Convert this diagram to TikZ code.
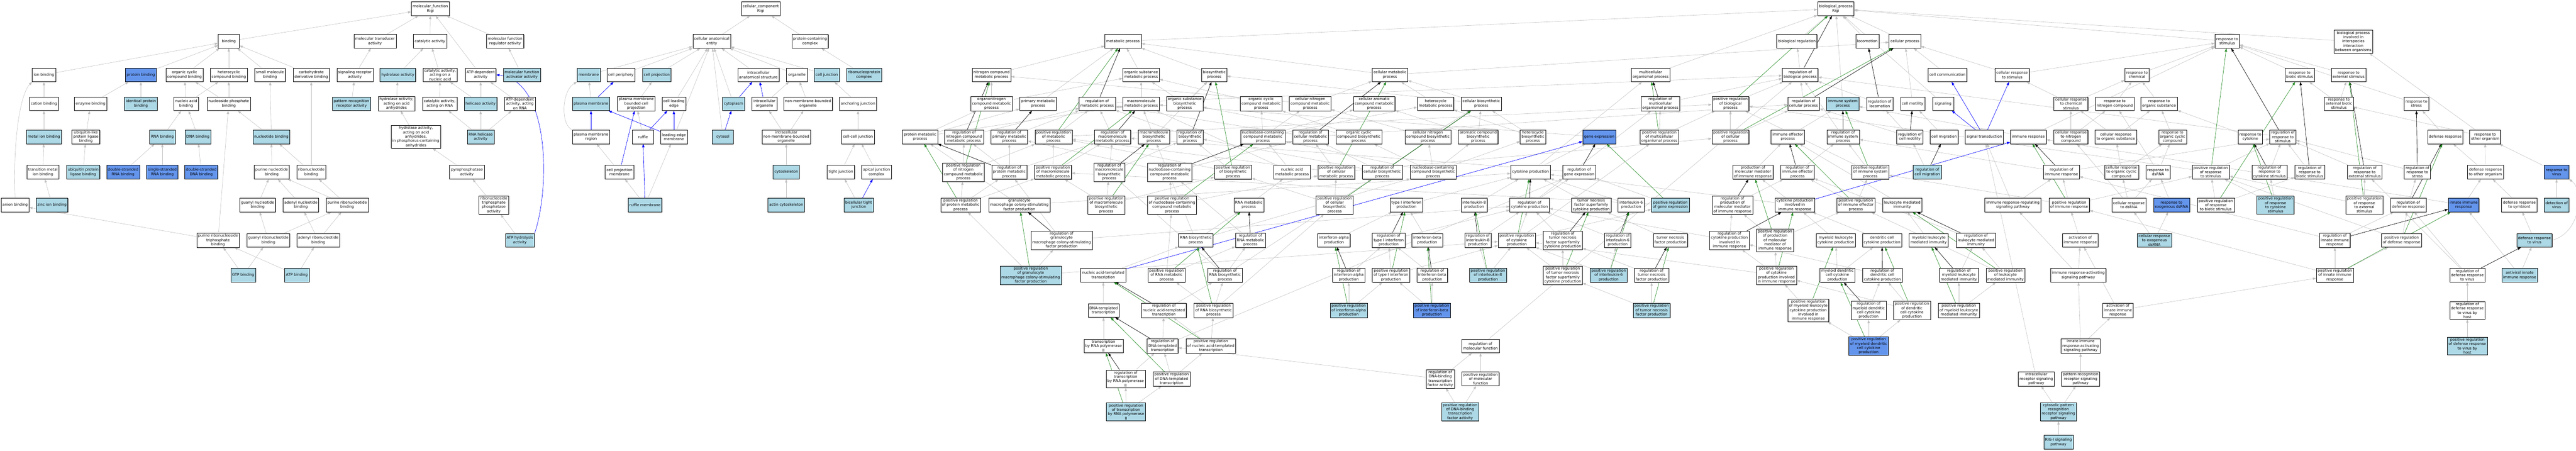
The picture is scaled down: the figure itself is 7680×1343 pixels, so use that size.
\documentclass[tikz,border=0pt]{standalone}
\usepackage{fontspec}
\setmainfont{DejaVu Sans}
\usepackage{tikz}
\usetikzlibrary{arrows.meta,shadows,backgrounds}
\definecolor{golight}{HTML}{ADD8E6}
\definecolor{godark}{HTML}{6495ED}
\definecolor{edgegray}{HTML}{C0C0C0}
\definecolor{forest}{HTML}{228B22}
\newcommand{\gofont}{\fontsize{11}{12.8}\selectfont}

\begin{document}
\begin{tikzpicture}[x=1pt, y=-1pt,
	term/.style={draw=black, line width=0.8pt, rectangle, fill=white, font=\gofont, align=center, inner xsep=4pt, inner ysep=3pt, minimum width=63pt, minimum height=41pt, general shadow={fill=black!45, shadow xshift=1.4pt, shadow yshift=-1.4pt}},
	hit/.style={term, fill=golight},
	hitdark/.style={term, fill=godark},
	isa/.style={draw=edgegray, line width=0.9pt, -{Triangle[length=10pt,width=7pt]}},
	partof/.style={draw=blue, line width=1pt, -{Triangle[length=10pt,width=7pt]}},
	regul/.style={draw=black, line width=1pt, -{Triangle[length=10pt,width=7pt]}},
	posregul/.style={draw=forest, line width=1pt, -{Triangle[length=10pt,width=7pt]}}]
			\useasboundingbox (0,0) rectangle (7680,1343);

			% molecular function
			\node[term] (mf) at (1283,26) {molecular\_function\\Rigi};
			\node[term] (bind) at (682,123) {binding};
			\node[term] (mtrans) at (1118,123) {molecular transducer\\activity};
			\node[term] (cat) at (1282,123) {catalytic activity};
			\node[term] (mfreg) at (1506,123) {molecular function\\regulator activity};
			\node[term] (ionb) at (131,223) {ion binding};
			\node[hitdark] (protb) at (420,223) {protein binding};
			\node[term] (occb) at (550,223) {organic cyclic\\compound binding};
			\node[term] (hetb) at (682,223) {heterocyclic\\compound binding};
			\node[term] (smb) at (805,223) {small molecule\\binding};
			\node[term] (carbb) at (928,223) {carbohydrate\\derivative binding};
			\node[term] (sigrec) at (1058,223) {signaling receptor\\activity};
			\node[hit] (hydro) at (1186,223) {hydrolase activity};
			\node[term] (catna) at (1312,223) {catalytic activity,\\acting on a\\nucleic acid};
			\node[term] (atpdep) at (1433,223) {ATP-dependent\\activity};
			\node[hit] (mfact) at (1556,223) {molecular function\\activator activity};
			\node[term] (catb) at (131,309) {cation binding};
			\node[term] (enzb) at (270,309) {enzyme binding};
			\node[hit] (idpb) at (420,309) {identical protein\\binding};
			\node[term] (nab) at (555,309) {nucleic acid\\binding};
			\node[term] (nspb) at (682,309) {nucleoside phosphate\\binding};
			\node[hit] (prr) at (1048,309) {pattern recognition\\receptor activity};
			\node[term] (hydaa) at (1182,309) {hydrolase activity,\\acting on acid\\anhydrides};
			\node[term] (catrna) at (1311,309) {catalytic activity,\\acting on RNA};
			\node[hit] (helic) at (1433,309) {helicase activity};
			\node[term] (atprna) at (1550,309) {ATP-dependent\\activity, acting\\on RNA};
			\node[hit] (metb) at (131,408) {metal ion binding};
			\node[term] (ublb) at (256,408) {ubiquitin-like\\protein ligase\\binding};
			\node[hit] (rnab) at (484,408) {RNA binding};
			\node[hit] (dnab) at (590,408) {DNA binding};
			\node[hit] (ntb) at (809,408) {nucleotide binding};
			\node[term] (hydpc) at (1240,408) {hydrolase activity,\\acting on acid\\anhydrides,\\in phosphorus-containing\\anhydrides};
			\node[hit] (rnahel) at (1433,408) {RNA helicase\\activity};
			\node[term] (tmb) at (128,513) {transition metal\\ion binding};
			\node[hit] (upb) at (248,513) {ubiquitin protein\\ligase binding};
			\node[hitdark] (dsrb) at (367,513) {double-stranded\\RNA binding};
			\node[hitdark] (ssrb) at (484,513) {single-stranded\\RNA binding};
			\node[hitdark] (dsdb) at (600,513) {double-stranded\\DNA binding};
			\node[term] (pntb) at (810,513) {purine nucleotide\\binding};
			\node[term] (rntb) at (928,513) {ribonucleotide\\binding};
			\node[term] (ppase) at (1392,513) {pyrophosphatase\\activity};
			\node[term] (anb) at (45,611) {anion binding};
			\node[hit] (znb) at (155,611) {zinc ion binding};
			\node[term] (gnb) at (768,611) {guanyl nucleotide\\binding};
			\node[term] (adnb) at (897,611) {adenyl nucleotide\\binding};
			\node[term] (prnb) at (1035,611) {purine ribonucleotide\\binding};
			\node[term] (ntpase) at (1472,611) {ribonucleoside\\triphosphate\\phosphatase\\activity};
			\node[term] (prntb) at (650,716) {purine ribonucleoside\\triphosphate\\binding};
			\node[term] (grnb) at (800,716) {guanyl ribonucleotide\\binding};
			\node[term] (arnb) at (949,716) {adenyl ribonucleotide\\binding};
			\node[hit] (atphyd) at (1550,716) {ATP hydrolysis\\activity};
			\node[hit] (gtpb) at (725,820) {GTP binding};
			\node[hit] (atpb) at (885,820) {ATP binding};

			% cellular component
			\node[term] (cc) at (2268,26) {cellular\_component\\Rigi};
			\node[term] (cae) at (2122,123) {cellular anatomical\\entity};
			\node[term] (pcc) at (2415,123) {protein-containing\\complex};
			\node[hit] (memb) at (1755,223) {membrane};
			\node[term] (cper) at (1851,223) {cell periphery};
			\node[hit] (cproj) at (1958,223) {cell projection};
			\node[term] (ias) at (2261,223) {intracellular\\anatomical structure};
			\node[term] (orgn) at (2376,223) {organelle};
			\node[hit] (cjunc) at (2465,223) {cell junction};
			\node[hit] (rnp) at (2576,223) {ribonucleoprotein\\complex};
			\node[hit] (pm) at (1762,309) {plasma membrane};
			\node[term] (pmbcp) at (1897,309) {plasma membrane\\bounded cell\\projection};
			\node[term] (cle) at (2009,309) {cell leading\\edge};
			\node[hit] (cytpl) at (2187,309) {cytoplasm};
			\node[term] (iorg) at (2279,309) {intracellular\\organelle};
			\node[term] (nmbo) at (2409,309) {non-membrane-bounded\\organelle};
			\node[term] (ajunc) at (2558,309) {anchoring junction};
			\node[term] (pmr) at (1762,408) {plasma membrane\\region};
			\node[term] (ruffle) at (1917,408) {ruffle};
			\node[term] (lem) at (2009,408) {leading edge\\membrane};
			\node[hit] (cytsol) at (2155,408) {cytosol};
			\node[term] (inmbo) at (2344,408) {intracellular\\non-membrane-bounded\\organelle};
			\node[term] (ccj) at (2558,408) {cell-cell junction};
			\node[term] (cpm) at (1847,513) {cell projection\\membrane};
			\node[hit] (cskel) at (2344,513) {cytoskeleton};
			\node[term] (tj) at (2507,513) {tight junction};
			\node[term] (ajc) at (2613,513) {apical junction\\complex};
			\node[hit] (rufm) at (1923,611) {ruffle membrane};
			\node[hit] (actsk) at (2344,611) {actin cytoskeleton};
			\node[hit] (btj) at (2560,611) {bicellular tight\\junction};

			% biological process, metabolism
			\node[term] (bp) at (5473,26) {biological\_process\\Rigi};
			\node[term] (metab) at (3348,123) {metabolic process};
			\node[term] (ncmp) at (2956,223) {nitrogen compound\\metabolic process};
			\node[term] (osmp) at (3402,223) {organic substance\\metabolic process};
			\node[term] (biosyn) at (3620,223) {biosynthetic\\process};
			\node[term] (cmp) at (4144,223) {cellular metabolic\\process};
			\node[term] (oncmp) at (2956,309) {organonitrogen\\compound metabolic\\process};
			\node[term] (pmp) at (3095,309) {primary metabolic\\process};
			\node[term] (regmp) at (3271,309) {regulation of\\metabolic process};
			\node[term] (mmp) at (3402,309) {macromolecule\\metabolic process};
			\node[term] (osbp) at (3532,309) {organic substance\\biosynthetic\\process};
			\node[term] (occmp) at (3760,309) {organic cyclic\\compound metabolic\\process};
			\node[term] (cncmp) at (3906,309) {cellular nitrogen\\compound metabolic\\process};
			\node[term] (cacmp) at (4097,309) {cellular aromatic\\compound metabolic\\process};
			\node[term] (hetmp) at (4280,309) {heterocycle\\metabolic process};
			\node[term] (cbp) at (4416,309) {cellular biosynthetic\\process};
			\node[term] (protmp) at (2743,408) {protein metabolic\\process};
			\node[term] (regncmp) at (2874,408) {regulation of\\nitrogen compound\\metabolic process};
			\node[term] (regpmp) at (3009,408) {regulation of\\primary metabolic\\process};
			\node[term] (posregmp) at (3141,408) {positive regulation\\of metabolic\\process};
			\node[term] (regmmp) at (3317,408) {regulation of\\macromolecule\\metabolic process};
			\node[term] (mbp) at (3440,408) {macromolecule\\biosynthetic\\process};
			\node[term] (regbp) at (3548,408) {regulation of\\biosynthetic\\process};
			\node[term] (nbcmp) at (3765,408) {nucleobase-containing\\compound metabolic\\process};
			\node[term] (regcmp) at (3907,408) {regulation of\\cellular metabolic\\process};
			\node[term] (occbp) at (4051,408) {organic cyclic\\compound biosynthetic\\process};
			\node[term] (cncbp) at (4257,408) {cellular nitrogen\\compound biosynthetic\\process};
			\node[term] (acbp) at (4407,408) {aromatic compound\\biosynthetic\\process};
			\node[term] (hetbp) at (4570,408) {heterocycle\\biosynthetic\\process};
			\node[hitdark] (genex) at (4768,408) {gene expression};
			\node[term] (posregncmp) at (2872,513) {positive regulation\\of nitrogen\\compound metabolic\\process};
			\node[term] (regprotmp) at (3009,513) {regulation of\\protein metabolic\\process};
			\node[term] (posregmmp) at (3139,513) {positive regulation\\of macromolecule\\metabolic process};
			\node[term] (regmbp) at (3307,513) {regulation of\\macromolecule\\biosynthetic\\process};
			\node[term] (regnbcmp) at (3487,513) {regulation of\\nucleobase-containing\\compound metabolic\\process};
			\node[term] (posregbp) at (3676,513) {positive regulation\\of biosynthetic\\process};
			\node[term] (namp) at (3852,513) {nucleic acid\\metabolic process};
			\node[term] (posregcmp) at (3984,513) {positive regulation\\of cellular\\metabolic process};
			\node[term] (regcbp) at (4121,513) {regulation of\\cellular biosynthetic\\process};
			\node[term] (nbcbp) at (4273,513) {nucleobase-containing\\compound biosynthetic\\process};
			\node[term] (cytprod) at (4563,513) {cytokine production};
			\node[term] (reggenex) at (4708,513) {regulation of\\gene expression};
			\node[term] (posregprotmp) at (2864,611) {positive regulation\\of protein metabolic\\process};
			\node[term] (gmcsf) at (3039,611) {granulocyte\\macrophage colony-stimulating\\factor production};
			\node[term] (posregmbp) at (3298,611) {positive regulation\\of macromolecule\\biosynthetic\\process};
			\node[term] (posregnbcmp) at (3494,611) {positive regulation\\of nucleobase-containing\\compound metabolic\\process};
			\node[term] (rnamp) at (3723,611) {RNA metabolic\\process};
			\node[term] (posregcbp) at (3979,611) {positive regulation\\of cellular\\biosynthetic\\process};
			\node[term] (ifn1) at (4193,611) {type I interferon\\production};
			\node[term] (il8) at (4395,611) {interleukin-8\\production};
			\node[term] (regcyt) at (4560,611) {regulation of\\cytokine production};
			\node[term] (tnfsf) at (4744,611) {tumor necrosis\\factor superfamily\\cytokine production};
			\node[term] (il6) at (4863,611) {interleukin-6\\production};
			\node[hit] (posreggenex) at (4980,611) {positive regulation\\of gene expression};
			\node[term] (reggmcsf) at (3165,716) {regulation of\\granulocyte\\macrophage colony-stimulating\\factor production};
			\node[term] (rnabp) at (3565,716) {RNA biosynthetic\\process};
			\node[term] (regrnamp) at (3728,716) {regulation of\\RNA metabolic\\process};
			\node[term] (ifna) at (3977,716) {interferon-alpha\\production};
			\node[term] (regifn1) at (4140,716) {regulation of\\type I interferon\\production};
			\node[term] (ifnb) at (4255,716) {interferon-beta\\production};
			\node[term] (regil8) at (4406,716) {regulation of\\interleukin-8\\production};
			\node[term] (posregcyt) at (4522,716) {positive regulation\\of cytokine\\production};
			\node[term] (regtnfsf) at (4659,716) {regulation of\\tumor necrosis\\factor superfamily\\cytokine production};
			\node[term] (regil6) at (4823,716) {regulation of\\interleukin-6\\production};
			\node[term] (tnf) at (4980,716) {tumor necrosis\\factor production};
			\node[hit] (posreggmcsf) at (3073,820) {positive regulation\\of granulocyte\\macrophage colony-stimulating\\factor production};
			\node[term] (natt) at (3289,820) {nucleic acid-templated\\transcription};
			\node[term] (posregrnamp) at (3478,820) {positive regulation\\of RNA metabolic\\process};
			\node[term] (regrnabp) at (3652,820) {regulation of\\RNA biosynthetic\\process};
			\node[term] (regifna) at (4021,820) {regulation of\\interferon-alpha\\production};
			\node[term] (posregifn1) at (4147,820) {positive regulation\\of type I interferon\\production};
			\node[term] (regifnb) at (4270,820) {regulation of\\interferon-beta\\production};
			\node[hit] (posregil8) at (4436,820) {positive regulation\\of interleukin-8\\production};
			\node[term] (posregtnfsf) at (4659,820) {positive regulation\\of tumor necrosis\\factor superfamily\\cytokine production};
			\node[hit] (posregil6) at (4796,820) {positive regulation\\of interleukin-6\\production};
			\node[term] (regtnf) at (4924,820) {regulation of\\tumor necrosis\\factor production};
			\node[term] (dtt) at (3290,925) {DNA-templated\\transcription};
			\node[term] (regnatt) at (3470,925) {regulation of\\nucleic acid-templated\\transcription};
			\node[term] (posregrnabp) at (3618,925) {positive regulation\\of RNA biosynthetic\\process};
			\node[hit] (posregifna) at (4021,925) {positive regulation\\of interferon-alpha\\production};
			\node[hitdark] (posregifnb) at (4269,925) {positive regulation\\of interferon-beta\\production};
			\node[hit] (posregtnf) at (4924,925) {positive regulation\\of tumor necrosis\\factor production};
			\node[term] (tpol2) at (3290,1031) {transcription\\by RNA polymerase\\II};
			\node[term] (regdtt) at (3466,1031) {regulation of\\DNA-templated\\transcription};
			\node[term] (posregnatt) at (3610,1031) {positive regulation\\of nucleic acid-templated\\transcription};
			\node[term] (regmf) at (4414,1031) {regulation of\\molecular function};
			\node[term] (regtpol2) at (3356,1129) {regulation of\\transcription\\by RNA polymerase\\II};
			\node[term] (posregdtt) at (3493,1129) {positive regulation\\of DNA-templated\\transcription};
			\node[term] (regdbtf) at (4294,1129) {regulation of\\DNA-binding\\transcription\\factor activity};
			\node[term] (posregmf) at (4414,1129) {positive regulation\\of molecular\\function};
			\node[hit] (posregtpol2) at (3357,1227) {positive regulation\\of transcription\\by RNA polymerase\\II};
			\node[hit] (posregdbtf) at (4353,1227) {positive regulation\\of DNA-binding\\transcription\\factor activity};

			% biological process, regulation and immunity
			\node[term] (multi) at (4921,223) {multicellular\\organismal process};
			\node[term] (regmulti) at (4950,309) {regulation of\\multicellular\\organismal process};
			\node[term] (posregmulti) at (4947,408) {positive regulation\\of multicellular\\organismal process};
			\node[term] (breg) at (5357,123) {biological regulation};
			\node[term] (loco) at (5567,123) {locomotion};
			\node[term] (cproc) at (5679,123) {cellular process};
			\node[term] (regbio) at (5367,223) {regulation of\\biological process};
			\node[term] (ccomm) at (5806,223) {cell communication};
			\node[term] (crstim) at (5999,223) {cellular response\\to stimulus};
			\node[term] (rchem) at (6371,223) {response to\\chemical};
			\node[term] (posregbio) at (5159,309) {positive regulation\\of biological\\process};
			\node[term] (regcp) at (5377,309) {regulation of\\cellular process};
			\node[hit] (isp) at (5494,309) {immune system\\process};
			\node[term] (regloco) at (5604,309) {regulation of\\locomotion};
			\node[term] (cmot) at (5702,309) {cell motility};
			\node[term] (signal) at (5793,309) {signaling};
			\node[term] (crchem) at (6174,309) {cellular response\\to chemical\\stimulus};
			\node[term] (rnitro) at (6305,309) {response to\\nitrogen compound};
			\node[term] (rorgs) at (6437,309) {response to\\organic substance};
			\node[term] (posregcp) at (5159,408) {positive regulation\\of cellular\\process};
			\node[term] (iep) at (5330,408) {immune effector\\process};
			\node[term] (regisp) at (5495,408) {regulation of\\immune system\\process};
			\node[term] (regcmot) at (5694,408) {regulation of\\cell motility};
			\node[term] (cmig) at (5796,408) {cell migration};
			\node[term] (sigtr) at (5916,408) {signal transduction};
			\node[term] (iresp) at (6047,408) {immune response};
			\node[term] (crnitro) at (6174,408) {cellular response\\to nitrogen\\compound};
			\node[term] (crorgs) at (6308,408) {cellular response\\to organic substance};
			\node[term] (prodmm) at (5226,513) {production of\\molecular mediator\\of immune response};
			\node[term] (regiep) at (5359,513) {regulation of\\immune effector\\process};
			\node[term] (posregisp) at (5576,513) {positive regulation\\of immune system\\process};
			\node[hit] (regcmig) at (5746,513) {regulation of\\cell migration};
			\node[term] (regiresp) at (6146,513) {regulation of\\immune response};
			\node[term] (crocc) at (6325,513) {cellular response\\to organic cyclic\\compound};
			\node[term] (rdsrna) at (6434,513) {response to\\dsRNA};
			\node[term] (regprodmm) at (5165,611) {regulation of\\production of\\molecular mediator\\of immune response};
			\node[term] (cpiir) at (5351,611) {cytokine production\\involved in\\immune response};
			\node[term] (posregiep) at (5533,611) {positive regulation\\of immune effector\\process};
			\node[term] (lmi) at (5671,611) {leukocyte mediated\\immunity};
			\node[term] (irrsp) at (6001,611) {immune response-regulating\\signaling pathway};
			\node[term] (posregiresp) at (6169,611) {positive regulation\\of immune response};
			\node[term] (crdsrna) at (6347,611) {cellular response\\to dsRNA};
			\node[hitdark] (rexds) at (6474,611) {response to\\exogenous dsRNA};
			\node[term] (regcpiir) at (5156,716) {regulation of\\cytokine production\\involved in\\immune response};
			\node[term] (posregprodmm) at (5292,716) {positive regulation\\of production\\of molecular\\mediator of\\immune response};
			\node[term] (mlcp) at (5473,716) {myeloid leukocyte\\cytokine production};
			\node[term] (dccp) at (5611,716) {dendritic cell\\cytokine production};
			\node[term] (mlmi) at (5750,716) {myeloid leukocyte\\mediated immunity};
			\node[term] (reglmi) at (5891,716) {regulation of\\leukocyte mediated\\immunity};
			\node[term] (actir) at (6202,716) {activation of\\immune response};
			\node[hit] (crexds) at (6423,716) {cellular response\\to exogenous\\dsRNA};
			\node[term] (posregcpiir) at (5296,820) {positive regulation\\of cytokine\\production involved\\in immune response};
			\node[term] (mdccp) at (5478,820) {myeloid dendritic\\cell cytokine\\production};
			\node[term] (regdccp) at (5612,820) {regulation of\\dendritic cell\\cytokine production};
			\node[term] (regmlmi) at (5840,820) {regulation of\\myeloid leukocyte\\mediated immunity};
			\node[term] (posreglmi) at (5979,820) {positive regulation\\of leukocyte\\mediated immunity};
			\node[term] (irasp) at (6196,820) {immune response-activating\\signaling pathway};
			\node[term] (posregmlcp) at (5391,925) {positive regulation\\of myeloid leukocyte\\cytokine production\\involved in\\immune response};
			\node[term] (regmdccp) at (5571,925) {regulation of\\myeloid dendritic\\cell cytokine\\production};
			\node[term] (posregdccp) at (5700,925) {positive regulation\\of dendritic\\cell cytokine\\production};
			\node[term] (posregmlmi) at (5840,925) {positive regulation\\of myeloid leukocyte\\mediated immunity};
			\node[term] (actinn) at (6314,925) {activation of\\innate immune\\response};
			\node[hitdark] (posregmdccp) at (5571,1031) {positive regulation\\of myeloid dendritic\\cell cytokine\\production};
			\node[term] (iirasp) at (6203,1031) {innate immune\\response-activating\\signaling pathway};
			\node[term] (irsp) at (6071,1129) {intracellular\\receptor signaling\\pathway};
			\node[term] (prrsp) at (6203,1129) {pattern recognition\\receptor signaling\\pathway};
			\node[hit] (cprrsp) at (6137,1227) {cytosolic pattern\\recognition\\receptor signaling\\pathway};
			\node[hit] (rigi) at (6137,1318) {RIG-I signaling\\pathway};

			% biological process, responses
			\node[term] (rstim) at (6640,123) {response to\\stimulus};
			\node[term] (bpinter) at (7016,124) {biological process\\involved in\\interspecies\\interaction\\between organisms};
			\node[term] (rbiot) at (6856,223) {response to\\biotic stimulus};
			\node[term] (rext) at (7002,223) {response to\\external stimulus};
			\node[term] (rextb) at (6973,309) {response to\\external biotic\\stimulus};
			\node[term] (rstress) at (7204,309) {response to\\stress};
			\node[term] (rocc) at (6477,408) {response to\\organic cyclic\\compound};
			\node[term] (rcyt) at (6709,408) {response to\\cytokine};
			\node[term] (regrstim) at (6806,408) {regulation of\\response to\\stimulus};
			\node[term] (defr) at (7290,408) {defense response};
			\node[term] (roth) at (7409,408) {response to\\other organism};
			\node[term] (posregrstim) at (6591,513) {positive regulation\\of response\\to stimulus};
			\node[term] (regrcyt) at (6766,513) {regulation of\\response to\\cytokine stimulus};
			\node[term] (regrbiot) at (6886,513) {regulation of\\response to\\biotic stimulus};
			\node[term] (regrext) at (7050,513) {regulation of\\response to\\external stimulus};
			\node[term] (regrstress) at (7207,513) {regulation of\\response to\\stress};
			\node[term] (droth) at (7410,513) {defense response\\to other organism};
			\node[hitdark] (rvirus) at (7622,513) {response to\\virus};
			\node[term] (posregrbiot) at (6606,611) {positive regulation\\of response\\to biotic stimulus};
			\node[hit] (posregrcyt) at (6784,611) {positive regulation\\of response\\to cytokine\\stimulus};
			\node[term] (posregrext) at (7049,611) {positive regulation\\of response\\to external\\stimulus};
			\node[term] (regdefr) at (7180,611) {regulation of\\defense response};
			\node[hitdark] (innate) at (7345,611) {innate immune\\response};
			\node[term] (dsymb) at (7511,611) {defense response\\to symbiont};
			\node[hit] (detvir) at (7622,611) {detection of\\virus};
			\node[term] (reginn) at (6961,716) {regulation of\\innate immune\\response};
			\node[term] (posregdefr) at (7160,716) {positive regulation\\of defense response};
			\node[hit] (dvirus) at (7556,716) {defense response\\to virus};
			\node[term] (posreginn) at (6961,820) {positive regulation\\of innate immune\\response};
			\node[term] (regdvir) at (7356,820) {regulation of\\defense response\\to virus};
			\node[hit] (antiv) at (7512,820) {antiviral innate\\immune response};
			\node[term] (regdvirh) at (7356,925) {regulation of\\defense response\\to virus by\\host};
			\node[hit] (posregdvirh) at (7356,1031) {positive regulation\\of defense response\\to virus by\\host};

			\begin{scope}[on background layer]
			% is_a, molecular function
			\draw[isa] (bind) -- (mf);
			\draw[isa] (mtrans) -- (mf);
			\draw[isa] (cat) -- (mf);
			\draw[isa] (atpdep) -- (mf);
			\draw[isa] (mfreg) -- (mf);
			\draw[isa] (ionb) -- (bind);
			\draw[isa] (protb) -- (bind);
			\draw[isa] (occb) -- (bind);
			\draw[isa] (hetb) -- (bind);
			\draw[isa] (smb) -- (bind);
			\draw[isa] (carbb) -- (bind);
			\draw[isa] (catb) -- (ionb);
			\draw[isa] (anb.north) .. controls (38,420) and (60,280) .. (ionb.south west);
			\draw[isa] (metb) -- (catb);
			\draw[isa] (tmb) -- (metb);
			\draw[isa] (znb) -- (tmb);
			\draw[isa] (enzb) -- (protb);
			\draw[isa] (idpb) -- (protb);
			\draw[isa] (ublb) -- (enzb);
			\draw[isa] (upb) -- (ublb);
			\draw[isa] (nab) -- (occb);
			\draw[isa] (nab) -- (hetb);
			\draw[isa] (nspb) -- (occb);
			\draw[isa] (nspb) -- (hetb);
			\draw[isa] (rnab) -- (nab);
			\draw[isa] (dnab) -- (nab);
			\draw[isa] (dsrb) -- (rnab);
			\draw[isa] (ssrb) -- (rnab);
			\draw[isa] (dsdb) -- (dnab);
			\draw[isa] (ntb) -- (nspb);
			\draw[isa] (ntb) -- (smb);
			\draw[isa] (pntb) -- (ntb);
			\draw[isa] (rntb) -- (ntb);
			\draw[isa] (rntb) -- (carbb);
			\draw[isa] (gnb) -- (pntb);
			\draw[isa] (adnb) -- (pntb);
			\draw[isa] (prnb) -- (pntb);
			\draw[isa] (prnb) -- (rntb);
			\draw[isa] (grnb) -- (gnb);
			\draw[isa] (grnb) -- (prnb);
			\draw[isa] (arnb) -- (adnb);
			\draw[isa] (arnb) -- (prnb);
			\draw[isa] (prntb) -- (anb);
			\draw[isa] (prntb) -- (nspb);
			\draw[isa] (gtpb) -- (prntb);
			\draw[isa] (gtpb) -- (grnb);
			\draw[isa] (atpb) -- (prntb);
			\draw[isa] (atpb) -- (arnb);
			\draw[isa] (sigrec) -- (mtrans);
			\draw[isa] (prr) -- (sigrec);
			\draw[isa] (hydro) -- (cat);
			\draw[isa] (catna) -- (cat);
			\draw[isa] (hydaa) -- (hydro);
			\draw[isa] (catrna) -- (catna);
			\draw[isa] (hydpc) -- (hydaa);
			\draw[isa] (ppase) -- (hydpc);
			\draw[isa] (ntpase) -- (ppase);
			\draw[isa] (atphyd) -- (ntpase);
			\draw[isa] (mfact) -- (mfreg);
			\draw[isa] (helic) -- (atpdep);
			\draw[isa] (helic) -- (catna);
			\draw[isa] (atprna) -- (atpdep);
			\draw[isa] (rnahel) -- (helic);
			\draw[isa] (rnahel) -- (catrna);
			\draw[isa] (rnahel) -- (atprna);
			\draw[partof] (atphyd.north east) .. controls (1640,560) and (1640,240) .. (atpdep.east);

			% cellular component
			\draw[isa] (cae) -- (cc);
			\draw[isa] (pcc) -- (cc);
			\draw[isa] (memb) -- (cae);
			\draw[isa] (cper) -- (cae);
			\draw[isa] (cproj) -- (cae);
			\draw[isa] (cle) -- (cae);
			\draw[isa] (lem) -- (cae);
			\draw[isa] (cytpl) -- (cae);
			\draw[isa] (cytsol) -- (cae);
			\draw[isa] (ias) -- (cae);
			\draw[isa] (orgn) -- (cae);
			\draw[isa] (cjunc) -- (cae);
			\draw[isa] (rnp) -- (pcc);
			\draw[isa] (pm) -- (memb);
			\draw[isa] (pmbcp) -- (cproj);
			\draw[isa] (pmr.north west) .. controls (1670,370) and (1675,270) .. (memb.south west);
			\draw[isa] (ruffle) -- (pmbcp);
			\draw[isa] (cpm) -- (pmr);
			\draw[isa] (rufm) -- (cpm);
			\draw[isa] (rufm) -- (lem);
			\draw[isa] (iorg) -- (orgn);
			\draw[isa] (nmbo) -- (orgn);
			\draw[isa] (inmbo) -- (iorg);
			\draw[isa] (inmbo) -- (nmbo);
			\draw[isa] (cskel) -- (inmbo);
			\draw[isa] (actsk) -- (cskel);
			\draw[isa] (ajunc) -- (cjunc);
			\draw[isa] (ccj) -- (ajunc);
			\draw[isa] (tj) -- (ccj);
			\draw[isa] (btj) -- (tj);
			\draw[isa] (ajc) -- (ccj);
			\draw[partof] (pm) -- (cper);
			\draw[partof] (pmr) -- (pm);
			\draw[partof] (cpm) -- (pmbcp);
			\draw[partof] (ruffle) -- (cle);
			\draw[partof] (lem) -- (cle);
			\draw[partof] (lem) -- (pm);
			\draw[partof] (rufm) -- (ruffle);
			\draw[partof] (cytpl) -- (ias);
			\draw[partof] (iorg) -- (ias);
			\draw[partof] (cytsol) -- (cytpl);
			\draw[partof] (btj) -- (ajc);

			% biological process, is_a
			\draw[isa] (metab) -- (bp);
			\draw[isa] (cproc) -- (bp);
			\draw[isa] (breg) -- (bp);
			\draw[isa] (loco) -- (bp);
			\draw[isa] (isp) -- (bp);
			\draw[isa] (multi) -- (bp);
			\draw[isa] (rstim) -- (bp);
			\draw[isa] (bpinter) -- (bp);
			\draw[isa] (signal) -- (bp);
			\draw[isa] (regbio) -- (breg);
			\draw[isa] (posregbio) -- (regbio);
			\draw[isa] (regcp) -- (regbio);
			\draw[isa] (posregcp) -- (posregbio);
			\draw[isa] (posregcp) -- (regcp);
			\draw[isa] (ccomm) -- (cproc);
			\draw[isa] (crstim) -- (cproc);
			\draw[isa] (crstim) -- (rstim);
			\draw[isa] (cmp) -- (metab);
			\draw[isa] (cmp) -- (cproc);
			\draw[isa] (ncmp) -- (metab);
			\draw[isa] (pmp) -- (metab);
			\draw[isa] (osmp) -- (metab);
			\draw[isa] (biosyn) -- (metab);
			\draw[isa] (regmp) -- (regbio);
			\draw[isa] (posregmp) -- (regmp);
			\draw[isa] (posregmp) -- (posregbio);
			\draw[isa] (oncmp) -- (ncmp);
			\draw[isa] (oncmp) -- (osmp);
			\draw[isa] (mmp) -- (osmp);
			\draw[isa] (osbp) -- (osmp);
			\draw[isa] (osbp) -- (biosyn);
			\draw[isa] (occmp) -- (osmp);
			\draw[isa] (cncmp) -- (ncmp);
			\draw[isa] (cncmp) -- (cmp);
			\draw[isa] (cacmp) -- (cmp);
			\draw[isa] (hetmp) -- (cmp);
			\draw[isa] (cbp) -- (cmp);
			\draw[isa] (cbp) -- (biosyn);
			\draw[isa] (protmp) -- (mmp);
			\draw[isa] (protmp) -- (oncmp);
			\draw[isa] (protmp) -- (pmp);
			\draw[isa] (regncmp) -- (regmp);
			\draw[isa] (regpmp) -- (regmp);
			\draw[isa] (regmmp) -- (regmp);
			\draw[isa] (mbp) -- (mmp);
			\draw[isa] (mbp) -- (biosyn);
			\draw[isa] (regbp) -- (regmp);
			\draw[isa] (nbcmp) -- (occmp);
			\draw[isa] (nbcmp) -- (cacmp);
			\draw[isa] (nbcmp) -- (hetmp);
			\draw[isa] (nbcmp) -- (cncmp);
			\draw[isa] (posregncmp) -- (regncmp);
			\draw[isa] (posregncmp) -- (posregmp);
			\draw[isa] (regprotmp) -- (regmmp);
			\draw[isa] (regprotmp) -- (regpmp);
			\draw[isa] (regprotmp) -- (regncmp);
			\draw[isa] (posregmmp) -- (regmmp);
			\draw[isa] (posregmmp) -- (posregmp);
			\draw[isa] (posregprotmp) -- (regprotmp);
			\draw[isa] (posregprotmp) -- (posregncmp);
			\draw[isa] (posregprotmp) -- (posregmmp);
			\draw[isa] (regmbp) -- (regmmp);
			\draw[isa] (regmbp) -- (regbp);
			\draw[isa] (regnbcmp) -- (regcmp);
			\draw[isa] (regnbcmp) -- (regpmp);
			\draw[isa] (posregbp) -- (regbp);
			\draw[isa] (posregbp) -- (posregmp);
			\draw[isa] (namp) -- (nbcmp);
			\draw[isa] (namp) -- (mmp);
			\draw[isa] (posregmbp) -- (regmbp);
			\draw[isa] (posregmbp) -- (posregbp);
			\draw[isa] (posregmbp) -- (posregmmp);
			\draw[isa] (posregnbcmp) -- (regnbcmp);
			\draw[isa] (posregnbcmp) -- (posregcmp);
			\draw[isa] (rnamp) -- (namp);
			\draw[isa] (rnabp) -- (rnamp);
			\draw[isa] (rnabp) -- (nbcbp);
			\draw[isa] (rnabp) -- (mbp);
			\draw[isa] (regrnamp) -- (regnbcmp);
			\draw[isa] (natt) -- (rnabp);
			\draw[isa] (posregrnamp) -- (regrnamp);
			\draw[isa] (posregrnamp) -- (posregnbcmp);
			\draw[isa] (regrnabp) -- (regrnamp);
			\draw[isa] (regrnabp) -- (regcbp);
			\draw[isa] (regrnabp) -- (regmbp);
			\draw[isa] (dtt) -- (natt);
			\draw[isa] (regnatt) -- (regrnabp);
			\draw[isa] (posregrnabp) -- (regrnabp);
			\draw[isa] (posregrnabp) -- (posregrnamp);
			\draw[isa] (posregrnabp) -- (posregcbp);
			\draw[isa] (tpol2) -- (dtt);
			\draw[isa] (regdtt) -- (regnatt);
			\draw[isa] (regdtt) -- (reggenex);
			\draw[isa] (posregnatt) -- (regnatt);
			\draw[isa] (posregnatt) -- (posregrnabp);
			\draw[isa] (regtpol2) -- (regdtt);
			\draw[isa] (posregdtt) -- (regdtt);
			\draw[isa] (posregdtt) -- (posregnatt);
			\draw[isa] (posregtpol2) -- (regtpol2);
			\draw[isa] (posregtpol2) -- (posregdtt);
			\draw[isa] (regcmp) -- (regmp);
			\draw[isa] (regcmp) -- (regcp);
			\draw[isa] (occbp) -- (occmp);
			\draw[isa] (occbp) -- (osbp);
			\draw[isa] (cncbp) -- (cncmp);
			\draw[isa] (cncbp) -- (cbp);
			\draw[isa] (acbp) -- (cacmp);
			\draw[isa] (acbp) -- (cbp);
			\draw[isa] (posregcmp) -- (regcmp);
			\draw[isa] (posregcmp) -- (posregmp);
			\draw[isa] (posregcmp) -- (posregcp);
			\draw[isa] (regcbp) -- (regcmp);
			\draw[isa] (regcbp) -- (regbp);
			\draw[isa] (nbcbp) -- (nbcmp);
			\draw[isa] (nbcbp) -- (cncbp);
			\draw[isa] (nbcbp) -- (acbp);
			\draw[isa] (nbcbp) -- (hetbp);
			\draw[isa] (nbcbp) -- (occbp);
			\draw[isa] (posregcbp) -- (regcbp);
			\draw[isa] (posregcbp) -- (posregbp);
			\draw[isa] (posregcbp) -- (posregcmp);
			\draw[isa] (hetbp) -- (hetmp);
			\draw[isa] (hetbp) -- (cbp);
			\draw[isa] (genex) -- (mmp);
			\draw[isa] (reggenex) -- (regmmp);
			\draw[isa] (posreggenex) -- (reggenex);
			\draw[isa] (posreggenex) -- (posregmmp);
			\draw[isa] (regmulti) -- (regbio);
			\draw[isa] (posregmulti) -- (regmulti);
			\draw[isa] (posregmulti) -- (posregbio);
			\draw[isa] (cytprod) -- (multi);
			\draw[isa] (cytprod) -- (genex);
			\draw[isa] (regcyt) -- (regmulti);
			\draw[isa] (regcyt) -- (reggenex);
			\draw[isa] (posregcyt) -- (regcyt);
			\draw[isa] (posregcyt) -- (posregmulti);
			\draw[isa] (posregcyt) -- (posreggenex);
			\draw[isa] (ifn1) -- (cytprod);
			\draw[isa] (il8) -- (cytprod);
			\draw[isa] (tnfsf) -- (cytprod);
			\draw[isa] (il6) -- (cytprod);
			\draw[isa] (gmcsf) -- (cytprod);
			\draw[isa] (gmcsf) -- (protmp);
			\draw[isa] (ifna) -- (ifn1);
			\draw[isa] (ifnb) -- (ifn1);
			\draw[isa] (regifn1) -- (regcyt);
			\draw[isa] (regifna) -- (regifn1);
			\draw[isa] (regifnb) -- (regifn1);
			\draw[isa] (posregifn1) -- (regifn1);
			\draw[isa] (posregifn1) -- (posregcyt);
			\draw[isa] (posregifna) -- (regifna);
			\draw[isa] (posregifna) -- (posregifn1);
			\draw[isa] (posregifnb) -- (regifnb);
			\draw[isa] (posregifnb) -- (posregifn1);
			\draw[isa] (regil8) -- (regcyt);
			\draw[isa] (posregil8) -- (regil8);
			\draw[isa] (posregil8) -- (posregcyt);
			\draw[isa] (regtnfsf) -- (regcyt);
			\draw[isa] (posregtnfsf) -- (regtnfsf);
			\draw[isa] (posregtnfsf) -- (posregcyt);
			\draw[isa] (tnf) -- (tnfsf);
			\draw[isa] (regtnf) -- (regtnfsf);
			\draw[isa] (posregtnf) -- (regtnf);
			\draw[isa] (posregtnf) -- (posregtnfsf);
			\draw[isa] (regil6) -- (regcyt);
			\draw[isa] (posregil6) -- (regil6);
			\draw[isa] (posregil6) -- (posregcyt);
			\draw[isa] (reggmcsf) -- (regcyt);
			\draw[isa] (reggmcsf) -- (regprotmp);
			\draw[isa] (posreggmcsf) -- (reggmcsf);
			\draw[isa] (posreggmcsf) -- (posregcyt);
			\draw[isa] (posreggmcsf) -- (posregprotmp);
			\draw[isa] (regmf) -- (regbio);
			\draw[isa] (regdbtf) -- (regmf);
			\draw[isa] (regdbtf) -- (regdtt);
			\draw[isa] (posregmf) -- (regmf);
			\draw[isa] (posregdbtf) -- (regdbtf);
			\draw[isa] (posregdbtf) -- (posregmf);
			\draw[isa] (regisp) -- (regbio);
			\draw[isa] (posregisp) -- (regisp);
			\draw[isa] (posregisp) -- (posregbio);
			\draw[isa] (iep) -- (isp);
			\draw[isa] (regiep) -- (regisp);
			\draw[isa] (posregiep) -- (regiep);
			\draw[isa] (posregiep) -- (posregisp);
			\draw[isa] (prodmm) -- (iep);
			\draw[isa] (regprodmm) -- (regiep);
			\draw[isa] (posregprodmm) -- (regprodmm);
			\draw[isa] (posregprodmm) -- (posregiep);
			\draw[isa] (cpiir) -- (prodmm);
			\draw[isa] (cpiir) -- (cytprod);
			\draw[isa] (regcpiir) -- (regcyt);
			\draw[isa] (regcpiir) -- (regprodmm);
			\draw[isa] (posregcpiir) -- (regcpiir);
			\draw[isa] (posregcpiir) -- (posregcyt);
			\draw[isa] (posregcpiir) -- (posregprodmm);
			\draw[isa] (mlcp) -- (cpiir);
			\draw[isa] (dccp) -- (cpiir);
			\draw[isa] (mdccp) -- (mlcp);
			\draw[isa] (mdccp) -- (dccp);
			\draw[isa] (regdccp) -- (regcpiir);
			\draw[isa] (posregdccp) -- (regdccp);
			\draw[isa] (posregdccp) -- (posregcpiir);
			\draw[isa] (posregmlcp) -- (posregcpiir);
			\draw[isa] (regmdccp) -- (regdccp);
			\draw[isa] (posregmdccp) -- (regmdccp);
			\draw[isa] (posregmdccp) -- (posregdccp);
			\draw[isa] (posregmdccp) -- (posregmlcp);
			\draw[isa] (lmi) -- (iep);
			\draw[isa] (mlmi) -- (lmi);
			\draw[isa] (reglmi) -- (regiep);
			\draw[isa] (posreglmi) -- (reglmi);
			\draw[isa] (posreglmi) -- (posregiep);
			\draw[isa] (regmlmi) -- (reglmi);
			\draw[isa] (posregmlmi) -- (regmlmi);
			\draw[isa] (posregmlmi) -- (posreglmi);
			\draw[isa] (regloco) -- (regbio);
			\draw[isa] (cmot) -- (cproc);
			\draw[isa] (regcmot) -- (regcp);
			\draw[isa] (regcmot) -- (regloco);
			\draw[isa] (cmig) -- (cmot);
			\draw[isa] (regcmig) -- (regcmot);
			\draw[isa] (iresp) -- (isp);
			\draw[isa] (iresp) -- (rstim);
			\draw[isa] (regiresp) -- (regisp);
			\draw[isa] (regiresp) -- (regrstim);
			\draw[isa] (posregiresp) -- (regiresp);
			\draw[isa] (posregiresp) -- (posregisp);
			\draw[isa] (posregiresp) -- (posregrstim);
			\draw[isa] (irrsp) -- (sigtr);
			\draw[isa] (irrsp) -- (regiresp);
			\draw[isa] (actir) -- (posregiresp);
			\draw[isa] (irasp) -- (irrsp);
			\draw[isa] (irasp) -- (actir);
			\draw[isa] (actinn) -- (actir);
			\draw[isa] (actinn) -- (posreginn);
			\draw[isa] (iirasp) -- (irasp);
			\draw[isa] (iirasp) -- (actinn);
			\draw[isa] (prrsp) -- (iirasp);
			\draw[isa] (irsp) -- (sigtr);
			\draw[isa] (cprrsp) -- (irsp);
			\draw[isa] (cprrsp) -- (prrsp);
			\draw[isa] (rigi) -- (cprrsp);
			\draw[isa] (rchem) -- (rstim);
			\draw[isa] (crchem) -- (crstim);
			\draw[isa] (crchem) -- (rchem);
			\draw[isa] (rnitro) -- (rchem);
			\draw[isa] (rorgs) -- (rchem);
			\draw[isa] (crnitro) -- (crchem);
			\draw[isa] (crnitro) -- (rnitro);
			\draw[isa] (crorgs) -- (crchem);
			\draw[isa] (crorgs) -- (rorgs);
			\draw[isa] (rocc) -- (rorgs);
			\draw[isa] (crocc) -- (crorgs);
			\draw[isa] (crocc) -- (rocc);
			\draw[isa] (rdsrna) -- (rocc);
			\draw[isa] (rdsrna) -- (rnitro);
			\draw[isa] (crdsrna) -- (rdsrna);
			\draw[isa] (crdsrna) -- (crocc);
			\draw[isa] (crdsrna) -- (crnitro);
			\draw[isa] (rexds) -- (rdsrna);
			\draw[isa] (crexds) -- (rexds);
			\draw[isa] (crexds) -- (crdsrna);
			\draw[isa] (rcyt) -- (rorgs);
			\draw[isa] (regrstim) -- (regbio);
			\draw[isa] (posregrstim) -- (regrstim);
			\draw[isa] (posregrstim) -- (posregbio);
			\draw[isa] (regrcyt) -- (regrstim);
			\draw[isa] (posregrcyt) -- (regrcyt);
			\draw[isa] (posregrcyt) -- (posregrstim);
			\draw[isa] (rbiot) -- (rstim);
			\draw[isa] (rext) -- (rstim);
			\draw[isa] (rextb) -- (rbiot);
			\draw[isa] (rextb) -- (rext);
			\draw[isa] (regrbiot) -- (regrstim);
			\draw[isa] (posregrbiot) -- (regrbiot);
			\draw[isa] (posregrbiot) -- (posregrstim);
			\draw[isa] (regrext) -- (regrstim);
			\draw[isa] (posregrext) -- (regrext);
			\draw[isa] (posregrext) -- (posregrstim);
			\draw[isa] (reginn) -- (regiresp);
			\draw[isa] (reginn) -- (regdefr);
			\draw[isa] (posreginn) -- (reginn);
			\draw[isa] (posreginn) -- (posregiresp);
			\draw[isa] (posreginn) -- (posregdefr);
			\draw[isa] (rstress) -- (rstim);
			\draw[isa] (defr) -- (rstress);
			\draw[isa] (roth) -- (rextb);
			\draw[isa] (roth) -- (bpinter);
			\draw[isa] (regrstress) -- (regrstim);
			\draw[isa] (regdefr) -- (regrstress);
			\draw[isa] (posregdefr) -- (regdefr);
			\draw[isa] (posregdefr) -- (posregrstim);
			\draw[isa] (droth) -- (defr);
			\draw[isa] (droth) -- (roth);
			\draw[isa] (innate) -- (droth);
			\draw[isa] (innate) -- (iresp);
			\draw[isa] (dsymb) -- (droth);
			\draw[isa] (rvirus) -- (roth);
			\draw[isa] (detvir) -- (rvirus);
			\draw[isa] (dvirus) -- (dsymb);
			\draw[isa] (dvirus.east) .. controls (7700,690) and (7700,560) .. (rvirus.south east);
			\draw[isa] (antiv) -- (dvirus);
			\draw[isa] (antiv) -- (innate);
			\draw[isa] (regdvir) -- (regdefr);
			\draw[isa] (regdvir) -- (regrext);
			\draw[isa] (regdvirh) -- (regdvir);
			\draw[isa] (posregdvirh) -- (regdvirh);

			% part_of, biological process
			\draw[partof] (natt) -- (genex);
			\draw[partof] (cpiir) -- (iresp);
			\draw[partof] (sigtr) -- (crstim);
			\draw[partof] (sigtr) -- (signal);
			\draw[partof] (sigtr) -- (ccomm);

			% regulates
			\draw[regul] (regbio) -- (bp);
			\draw[regul] (regcp) -- (cproc);
			\draw[regul] (regmp) -- (metab);
			\draw[regul] (regncmp) -- (ncmp);
			\draw[regul] (regpmp) -- (pmp);
			\draw[regul] (regmmp) -- (mmp);
			\draw[regul] (regbp) -- (biosyn);
			\draw[regul] (regprotmp) -- (protmp);
			\draw[regul] (regmbp) -- (mbp);
			\draw[regul] (regnbcmp) -- (nbcmp);
			\draw[regul] (regrnamp) -- (rnamp);
			\draw[regul] (regrnabp) -- (rnabp);
			\draw[regul] (regnatt) -- (natt);
			\draw[regul] (regdtt) -- (dtt);
			\draw[regul] (regtpol2) -- (tpol2);
			\draw[regul] (regcmp) -- (cmp);
			\draw[regul] (regcbp) -- (cbp);
			\draw[regul] (reggmcsf) -- (gmcsf);
			\draw[regul] (reggenex) -- (genex);
			\draw[regul] (regmulti) -- (multi);
			\draw[regul] (regcyt) -- (cytprod);
			\draw[regul] (regifn1) -- (ifn1);
			\draw[regul] (regifna) -- (ifna);
			\draw[regul] (regifnb) -- (ifnb);
			\draw[regul] (regil8) -- (il8);
			\draw[regul] (regtnfsf) -- (tnfsf);
			\draw[regul] (regil6) -- (il6);
			\draw[regul] (regtnf) -- (tnf);
			\draw[regul] (regisp) -- (isp);
			\draw[regul] (regiep) -- (iep);
			\draw[regul] (regprodmm) -- (prodmm);
			\draw[regul] (regcpiir) -- (cpiir);
			\draw[regul] (regdccp) -- (dccp);
			\draw[regul] (regmdccp) -- (mdccp);
			\draw[regul] (reglmi) -- (lmi);
			\draw[regul] (regmlmi) -- (mlmi);
			\draw[regul] (regloco) -- (loco);
			\draw[regul] (regcmot) -- (cmot);
			\draw[regul] (regcmig) -- (cmig);
			\draw[regul] (regiresp) -- (iresp);
			\draw[regul] (regrstim) -- (rstim);
			\draw[regul] (regrcyt) -- (rcyt);
			\draw[regul] (regrbiot) -- (rbiot);
			\draw[regul] (regrext) -- (rext);
			\draw[regul] (regrstress) -- (rstress);
			\draw[regul] (regdefr) -- (defr);
			\draw[regul] (reginn) -- (innate);
			\draw[regul] (regdvir) -- (dvirus);

			% positively regulates
			\draw[posregul] (posregbio) -- (bp);
			\draw[posregul] (posregcp) -- (cproc);
			\draw[posregul] (posregmp) -- (metab);
			\draw[posregul] (posregncmp) -- (ncmp);
			\draw[posregul] (posregmmp) -- (mmp);
			\draw[posregul] (posregprotmp) -- (protmp);
			\draw[posregul] (posregbp) -- (biosyn);
			\draw[posregul] (posregmbp) -- (mbp);
			\draw[posregul] (posregnbcmp) -- (nbcmp);
			\draw[posregul] (posregrnamp) -- (rnamp);
			\draw[posregul] (posregrnabp) -- (rnabp);
			\draw[posregul] (posregnatt) -- (natt);
			\draw[posregul] (posregdtt) -- (dtt);
			\draw[posregul] (posregtpol2) -- (tpol2);
			\draw[posregul] (posregcmp) -- (cmp);
			\draw[posregul] (posregcbp) -- (cbp);
			\draw[posregul] (posreggmcsf) -- (gmcsf);
			\draw[posregul] (posreggenex) -- (genex);
			\draw[posregul] (posregmulti) -- (multi);
			\draw[posregul] (posregcyt) -- (cytprod);
			\draw[posregul] (posregifn1) -- (ifn1);
			\draw[posregul] (posregifna) -- (ifna);
			\draw[posregul] (posregifnb) -- (ifnb);
			\draw[posregul] (posregil8) -- (il8);
			\draw[posregul] (posregtnfsf) -- (tnfsf);
			\draw[posregul] (posregil6) -- (il6);
			\draw[posregul] (posregtnf) -- (tnf);
			\draw[posregul] (posregisp) -- (isp);
			\draw[posregul] (posregiep) -- (iep);
			\draw[posregul] (posregprodmm) -- (prodmm);
			\draw[posregul] (posregcpiir) -- (cpiir);
			\draw[posregul] (posregmlcp) -- (mlcp);
			\draw[posregul] (posregdccp) -- (dccp);
			\draw[posregul] (posregmdccp) -- (mdccp);
			\draw[posregul] (posreglmi) -- (lmi);
			\draw[posregul] (posregmlmi) -- (mlmi);
			\draw[posregul] (posregiresp) -- (iresp);
			\draw[posregul] (posregrstim) -- (rstim);
			\draw[posregul] (posregrcyt) -- (rcyt);
			\draw[posregul] (posregrbiot) -- (rbiot);
			\draw[posregul] (posregrext) -- (rext);
			\draw[posregul] (posregdefr) -- (defr);
			\draw[posregul] (posreginn) -- (innate);
			\end{scope}
		\end{tikzpicture}
\end{document}
